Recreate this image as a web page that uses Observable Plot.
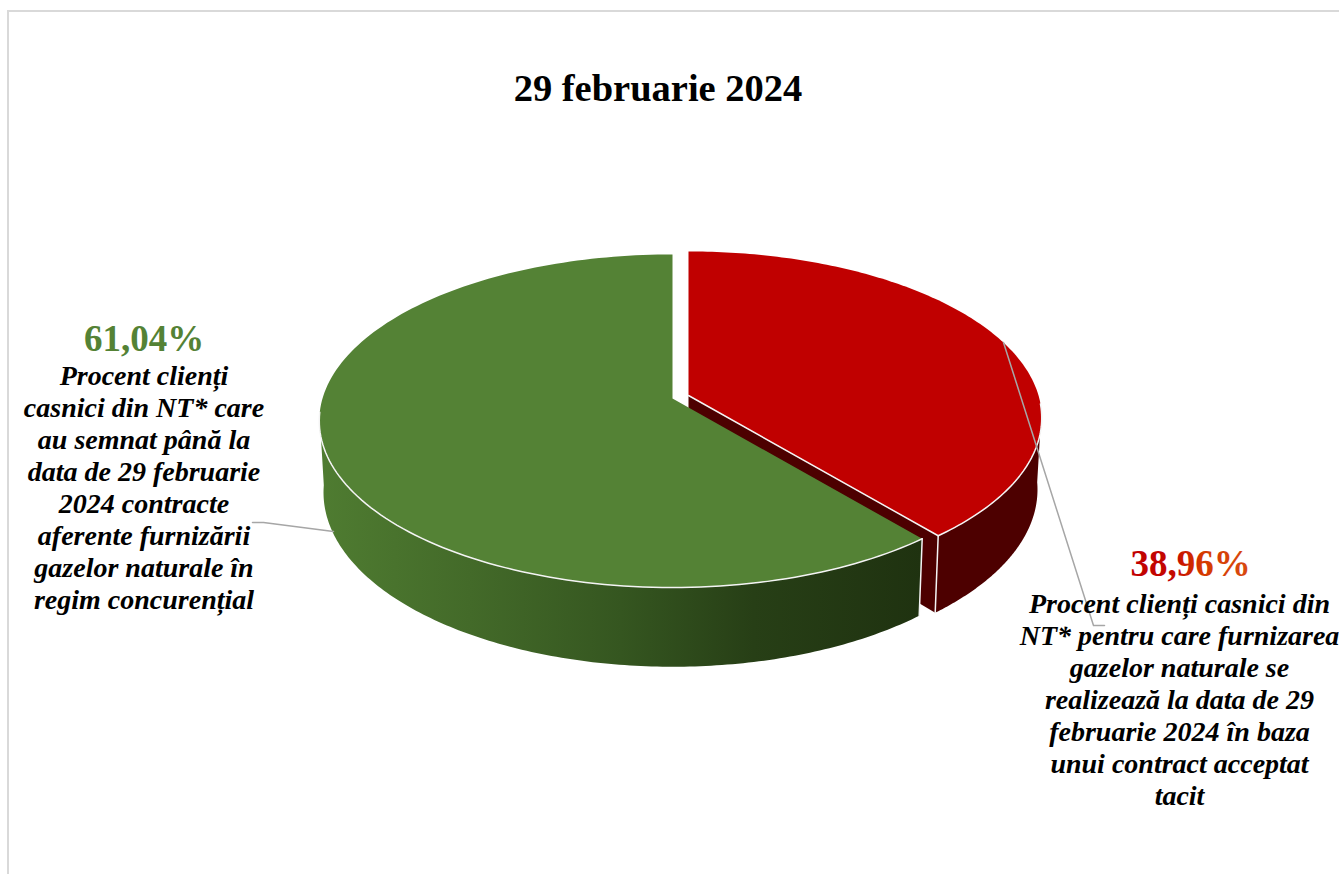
<!DOCTYPE html>
<html lang="ro">
<head>
<meta charset="utf-8">
<script src="https://cdn.jsdelivr.net/npm/d3@7"></script>
<script src="https://cdn.jsdelivr.net/npm/@observablehq/plot@0.6"></script>
<style>
html,body{margin:0;padding:0;background:#fff;width:1339px;height:874px;overflow:hidden}
#frame{position:absolute;left:7px;top:10px;right:0;bottom:0;border-left:2px solid #d9d9d9;border-top:2px solid #d9d9d9;pointer-events:none}
#title{position:absolute;left:0;width:1316px;top:66px;text-align:center;font:bold 38.5px "Liberation Serif",serif;color:#000;line-height:44px}
#chart{position:absolute;left:0;top:120px}
svg{display:block}
</style>
</head>
<body>
<div id="frame"></div>
<div id="title">29 februarie 2024</div>
<div id="chart"></div>
<script>
const shares = [38.96, 61.04];
const pctLabels = ["38,96%", "61,04%"];
const leftLines = ["Procent clienți","casnici din NT* care","au semnat până la","data de 29 februarie","2024 contracte","aferente furnizării","gazelor naturale în","regim concurențial"];
const rightLines = ["Procent clienți casnici din","NT* pentru care furnizarea","gazelor naturale se","realizează la data de 29","februarie 2024 în baza","unui contract acceptat","tacit"];
const leaderLeft = [[252,522],[263,522],[333,531]];
const leaderRight = [[1003,342],[1093,625],[1104,625]];

const topOffset = 120;
const W = 1339, H = 874 - topOffset;

// perspective projection of the pie's circle
const Rx = 350, Ry = 163.5, k = 0.135, depth = 70.5, shrink = 0.988;
const greenApex = [672, 398], redApex = [688, 395];
function proj(th, apex, r = 1, low = false) {
  const u = Math.sin(th) * r, v = Math.cos(th) * r;
  const s = 1 / (1 + k * v), b = low ? shrink : 1;
  return {x: apex[0] + Rx * b * u * s, y: apex[1] - Ry * b * v * s + (low ? depth * s : 0)};
}
function arc(a0, a1, apex, low = false, n = 160) {
  return d3.range(n + 1).map(i => proj(a0 + (a1 - a0) * i / n, apex, 1, low));
}
const split = shares[0] / 100 * 2 * Math.PI, full = 2 * Math.PI;
const lowApex = (apex) => proj(0, apex, 0, true);

const redTopArc = arc(0, split, redApex);
const redTop = [{x: redApex[0], y: redApex[1]}, ...redTopArc];
const redRim = [...arc(Math.PI * 0.53, split, redApex), ...arc(split, Math.PI * 0.53, redApex, true)];
const redEnd = [proj(split, redApex), proj(split, redApex, 1, true)];
const redWall = [{x: redApex[0], y: redApex[1]}, redEnd[0], redEnd[1], lowApex(redApex)];

const greenTopArc = arc(split, full, greenApex);
const greenTop = [{x: greenApex[0], y: greenApex[1]}, ...greenTopArc];
const greenRim = [...arc(split, Math.PI * 1.47, greenApex), ...arc(Math.PI * 1.47, split, greenApex, true)];
const greenEnd = [proj(split, greenApex), proj(split, greenApex, 1, true)];
const redRadial = [redEnd[0], {x: redApex[0], y: redApex[1]}];

const toPts = a => a.map(([x, y]) => ({x, y}));
const poly = (d, fill) => Plot.line(d, {x: "x", y: "y", fill, stroke: "none"});
const edge = (d, w = 1.5, c = "#f4f4f4") => Plot.line(d, {x: "x", y: "y", stroke: c, strokeWidth: w});

const textLines = (lines, cx, firstBaseline) => Plot.text(lines, {
  x: () => cx,
  y: (d, i) => firstBaseline + i * 32 - 9,
  text: d => d,
  fontFamily: "Liberation Serif", fontSize: 28, fontWeight: "bold", fontStyle: "italic",
  fill: "#000", lineAnchor: "middle", textAnchor: "middle"
});

const defs = () => {
  const d = d3.create("svg:defs");
  const g = d.append("linearGradient").attr("id", "greenRim");
  [[0,"#4f7c31"],[0.25,"#436a29"],[0.5,"#355620"],[0.72,"#273f16"],[1,"#1f3210"]]
    .forEach(([o, c]) => g.append("stop").attr("offset", o).attr("stop-color", c));
  const p = d.append("linearGradient").attr("id", "pctGrad");
  [[0,"#c00000"],[0.35,"#c40800"],[0.6,"#d53a00"],[1,"#d84a10"]]
    .forEach(([o, c]) => p.append("stop").attr("offset", o).attr("stop-color", c));
  return d.node();
};

const plot = Plot.plot({
  width: W, height: H,
  margin: 0,
  x: {type: "linear", domain: [0, W], range: [0, W], axis: null},
  y: {type: "linear", domain: [topOffset, 874], range: [0, H], axis: null},
  marks: [
    defs,
    poly(redRim, "#4d0000"),
    poly(redWall, "#4d0000"),
    poly(redTop, "#c00000"),
    edge(redTopArc.slice(106)),
    edge(redRadial),
    edge(redEnd),
    poly(greenRim, "url(#greenRim)"),
    poly(greenTop, "#548235"),
    edge(greenTopArc.slice(0, 92)),
    edge(greenEnd),
    Plot.line(toPts(leaderLeft), {x: "x", y: "y", stroke: "#a6a6a6", strokeWidth: 1.5}),
    Plot.line(toPts(leaderRight), {x: "x", y: "y", stroke: "#a6a6a6", strokeWidth: 1.5}),
    Plot.text([pctLabels[1]], {x: () => 143.5, y: () => 339, text: d => d, fontFamily: "Liberation Serif", fontSize: 37, fontWeight: "bold", fill: "#548235", textAnchor: "middle", lineAnchor: "middle"}),
    textLines(leftLines, 143.5, 385),
    Plot.text([pctLabels[0]], {x: () => 1190, y: () => 564, text: d => d, fontFamily: "Liberation Serif", fontSize: 37, fontWeight: "bold", fill: "url(#pctGrad)", textAnchor: "middle", lineAnchor: "middle"}),
    textLines(rightLines, 1179, 613)
  ]
});
document.getElementById("chart").append(plot);
</script>
</body>
</html>
